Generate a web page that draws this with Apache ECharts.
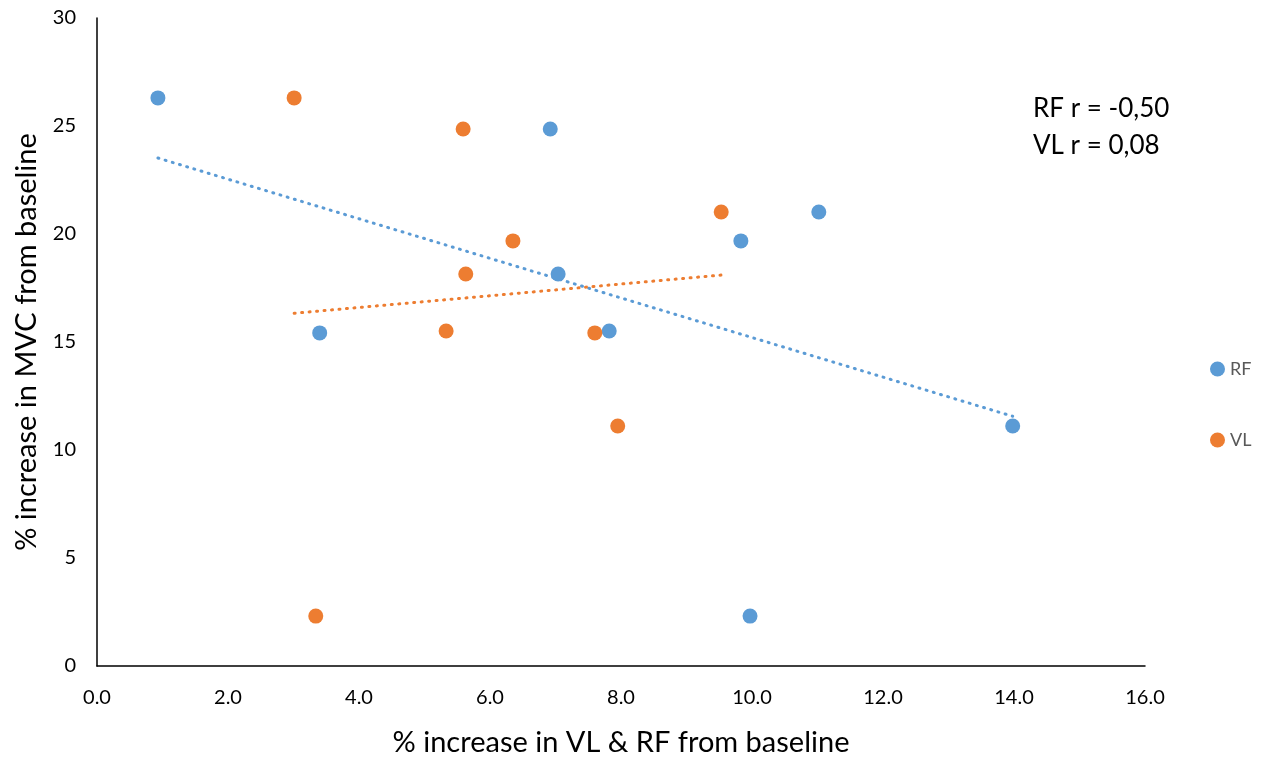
<!DOCTYPE html>
<html>
<head>
<meta charset="utf-8">
<script src="https://cdn.jsdelivr.net/npm/echarts@6/dist/echarts.min.js"></script>
<style>
  html, body { margin: 0; padding: 0; background: #fff; }
  #chart { width: 1270px; height: 757px; }
</style>
</head>
<body>
<div id="chart"></div>
<script>
  // data
  var rfX = [0.93, 6.92, 7.04, 9.83, 11.02, 7.82, 3.40, 13.98, 9.97];
  var rfY = [26.30, 24.86, 18.15, 19.68, 21.02, 15.51, 15.42, 11.11, 2.31];
  var vlX = [3.01, 5.59, 5.63, 6.35, 9.53, 5.33, 7.60, 7.95, 3.34];
  var vlY = [26.30, 24.86, 18.15, 19.68, 21.02, 15.51, 15.42, 11.11, 2.31];
  var notes = ['RF r = -0,50', 'VL r = 0,08'];

  var blue = '#5B9BD5', orange = '#ED7D31';
  var font = 'Lato, "Open Sans", sans-serif';

  function pairs(xs, ys) {
    return xs.map(function (x, i) { return [x, ys[i]]; });
  }

  // least squares trend line over the data range
  function trend(xs, ys) {
    var n = xs.length, mx = 0, my = 0, sxy = 0, sxx = 0;
    for (var i = 0; i < n; i++) { mx += xs[i]; my += ys[i]; }
    mx /= n; my /= n;
    for (var j = 0; j < n; j++) {
      sxy += (xs[j] - mx) * (ys[j] - my);
      sxx += (xs[j] - mx) * (xs[j] - mx);
    }
    var b = sxy / sxx, a = my - b * mx;
    var lo = Math.min.apply(null, xs), hi = Math.max.apply(null, xs);
    return [[lo, a + b * lo], [hi, a + b * hi]];
  }

  function trendSeries(xs, ys, color) {
    return {
      type: 'line',
      data: trend(xs, ys),
      symbol: 'none',
      silent: true,
      z: 1,
      lineStyle: { color: color, width: 3, type: [1, 6.5], cap: 'round' }
    };
  }

  var myChart = echarts.init(document.getElementById('chart'));

  var option = {
    animation: false,
    backgroundColor: '#fff',
    grid: { left: 97, right: 125, top: 18, bottom: 91, outerBoundsMode: 'none' },
    legend: {
      data: ['RF', 'VL'],
      orient: 'vertical',
      left: 1205,
      top: 355,
      itemGap: 53,
      itemWidth: 15,
      itemHeight: 15,
      icon: 'circle',
      textStyle: { color: '#595959', fontSize: 18, fontFamily: font }
    },
    xAxis: {
      type: 'value',
      min: 0, max: 16, interval: 2,
      name: '% increase in VL & RF from baseline',
      nameLocation: 'middle',
      nameGap: 62,
      nameTextStyle: { color: '#000', fontSize: 29, fontFamily: font },
      axisLine: { lineStyle: { color: '#000', width: 1.5 } },
      axisTick: { show: false },
      splitLine: { show: false },
      axisLabel: {
        color: '#000', fontSize: 20, fontFamily: font, margin: 22,
        formatter: function (v) { return v.toFixed(1); }
      }
    },
    yAxis: {
      type: 'value',
      min: 0, max: 30, interval: 5,
      name: '% increase in MVC from baseline',
      nameLocation: 'middle',
      nameGap: 56,
      nameTextStyle: { color: '#000', fontSize: 29, fontFamily: font },
      axisLine: { show: true, lineStyle: { color: '#000', width: 1.5 } },
      axisTick: { show: false },
      splitLine: { show: false },
      axisLabel: { color: '#000', fontSize: 20, fontFamily: font, margin: 21 }
    },
    graphic: [{
      type: 'text',
      left: 1033,
      top: 90,
      style: {
        text: notes.join('\n'),
        fill: '#000',
        font: '26px ' + font,
        lineHeight: 37
      }
    }],
    series: [
      trendSeries(rfX, rfY, blue),
      trendSeries(vlX, vlY, orange),
      {
        name: 'RF',
        type: 'scatter',
        data: pairs(rfX, rfY),
        symbolSize: 15,
        z: 3,
        itemStyle: { color: blue, opacity: 1 }
      },
      {
        name: 'VL',
        type: 'scatter',
        data: pairs(vlX, vlY),
        symbolSize: 15,
        z: 3,
        itemStyle: { color: orange, opacity: 1 }
      }
    ]
  };

  myChart.setOption(option);
</script>
</body>
</html>
